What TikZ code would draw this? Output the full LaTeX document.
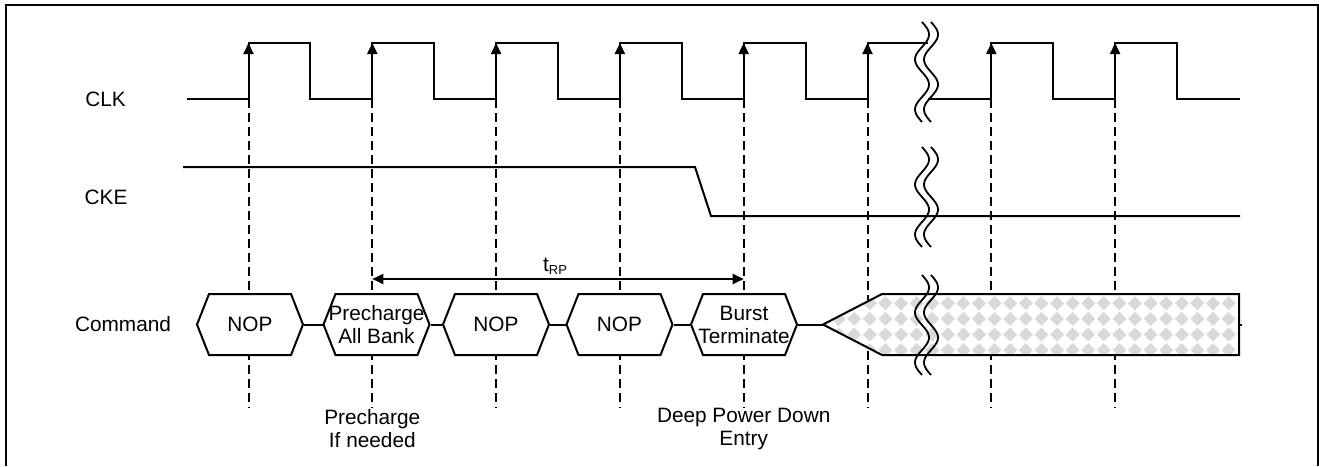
\documentclass[tikz,border=0pt]{standalone}
\usepackage{fontspec}
\setmainfont{Liberation Sans}
\usetikzlibrary{arrows.meta}
\definecolor{hatchgray}{HTML}{D9D9D9}

\begin{document}
\begin{tikzpicture}[x=1pt, y=-1pt, line width=2pt, line join=miter,
  lbl/.style={anchor=center, inner sep=0pt, font=\fontsize{20.8}{23}\selectfont},
  cmd/.style={lbl, minimum width=106pt, minimum height=61pt, align=center},
  guide/.style={line width=2pt, dash pattern=on 9pt off 5pt},
  edgearrow/.style={-{Triangle[width=10pt,length=11pt]}}]
  % ---- 时序图：Deep Power Down Entry -------------------------------------
  % 像素坐标（y 向下）：时钟周期 123.8，低电平 y=99，高电平 y=43。
  \def\per{123.8}
  \def\Arr{Triangle[width=10pt,length=11pt]}

  % ── 外框：底边落在图外 ──
  \draw[line width=1.5pt] (6,466) -- (6,5) -- (1318,5) -- (1318,466);

  % ── 上升沿：八个坐标，一行 \foreach ──
  \foreach \i in {0,...,7} \coordinate (e\i) at ({248.5+\per*\i},99);

  % ── 竖虚线（先画，命令框会把它盖住）──
  \foreach \i in {0,...,7} \draw[guide] (e\i) -- ++(0,309);

  % ── CLK：断点前后分两段 ──
  \draw (187,99) \foreach \i in {0,...,4} { -- (e\i) -- ++(0,-56) -- ++(61.9,0) -- ++(0,56) }
    -- (e5) -- ++(0,-56) -- (928,43);
  \draw (928,99) -- (e6) -- ++(0,-56) -- ++(61.9,0) -- ++(0,56)
    -- (e7) -- ++(0,-56) -- ++(61.9,0) -- ++(0,56) -- (1240,99);
  \foreach \i in {0,...,7} \draw[edgearrow] (e\i) -- ++(0,-56);

  % ── CKE ──
  \draw (183,167) -- (695,167) -- (711,216) -- (1240,216);

  % ── t_RP ──
  \coordinate (trp) at (0,279);
  \draw[{\Arr}-{\Arr}] (e1 |- trp) -- (e4 |- trp);
  \node[lbl] (trplbl) at (555,266) {t\raisebox{-3pt}{\fontsize{13}{13}\selectfont RP}};

  % ── 命令框：六边形先填白，再放文字节点 ──
  \foreach \n/\x/\t in {nop1/250/NOP, pre/376.5/{Precharge\\All Bank}, nop2/496/NOP,
                        nop3/619.5/NOP, bst/744/{Burst\\Terminate}} {
    \draw[fill=white] (\x-53,324.5) -- (\x-41,294) -- (\x+41,294) -- (\x+53,324.5)
      -- (\x+41,355) -- (\x-41,355) -- cycle;
    \node[cmd] (\n) at (\x,324.5) {\t};
  }
  \coordinate (dpd) at (823,324.5);
  \draw (nop1.east) -- (pre.west);
  \draw (pre.east) -- (nop2.west);
  \draw (nop2.east) -- (nop3.west);
  \draw (nop3.east) -- (bst.west);
  \draw (bst.east) -- (dpd);

  % ── 无效区：菱形网点，裁进外形 ──
  \begin{scope}
    \clip (dpd) -- (882,294) -- (1239,294) -- (1239,355) -- (882,355) -- cycle;
    \fill[white] (820,290) rectangle (1242,360);
    \foreach \j in {0,...,4} \foreach \k in {0,...,27}
      \fill[hatchgray] ({823+15.6*\k},{287.7+15.6*\j}) +(-7,0) -- +(0,-7) -- +(7,0) -- +(0,7) -- cycle;
  \end{scope}
  \draw (dpd) -- (882,294) -- (1239,294) -- (1239,355) -- (882,355) -- cycle;
  \draw (1239,324.5) -- (1242,324.5);

  % ── 断点：两条正弦波，三处 ──
  \foreach \yt in {22,147,275}
    \foreach \dx in {0,9}
      \draw[line width=1.8pt] plot[domain=0:100, samples=60, variable=\s] ({922+\dx+7*sin(7.2*\s)}, {\yt+\s});

  % ── 标签 ──
  \node[lbl] (clk) at (105.5,99) {CLK};
  \node[lbl] (cke) at (106,197) {CKE};
  \node[lbl] (cmdlbl) at (123,324.5) {Command};
  \node[lbl, align=center] (pchg) at (e1 |- 0,428.5) {Precharge\\If needed};
  \node[lbl, align=center] (dpde) at (e4 |- 0,428.5) {Deep Power Down\\Entry};

  \path[use as bounding box] (0,0) rectangle (1319,466);
\end{tikzpicture}
\end{document}
